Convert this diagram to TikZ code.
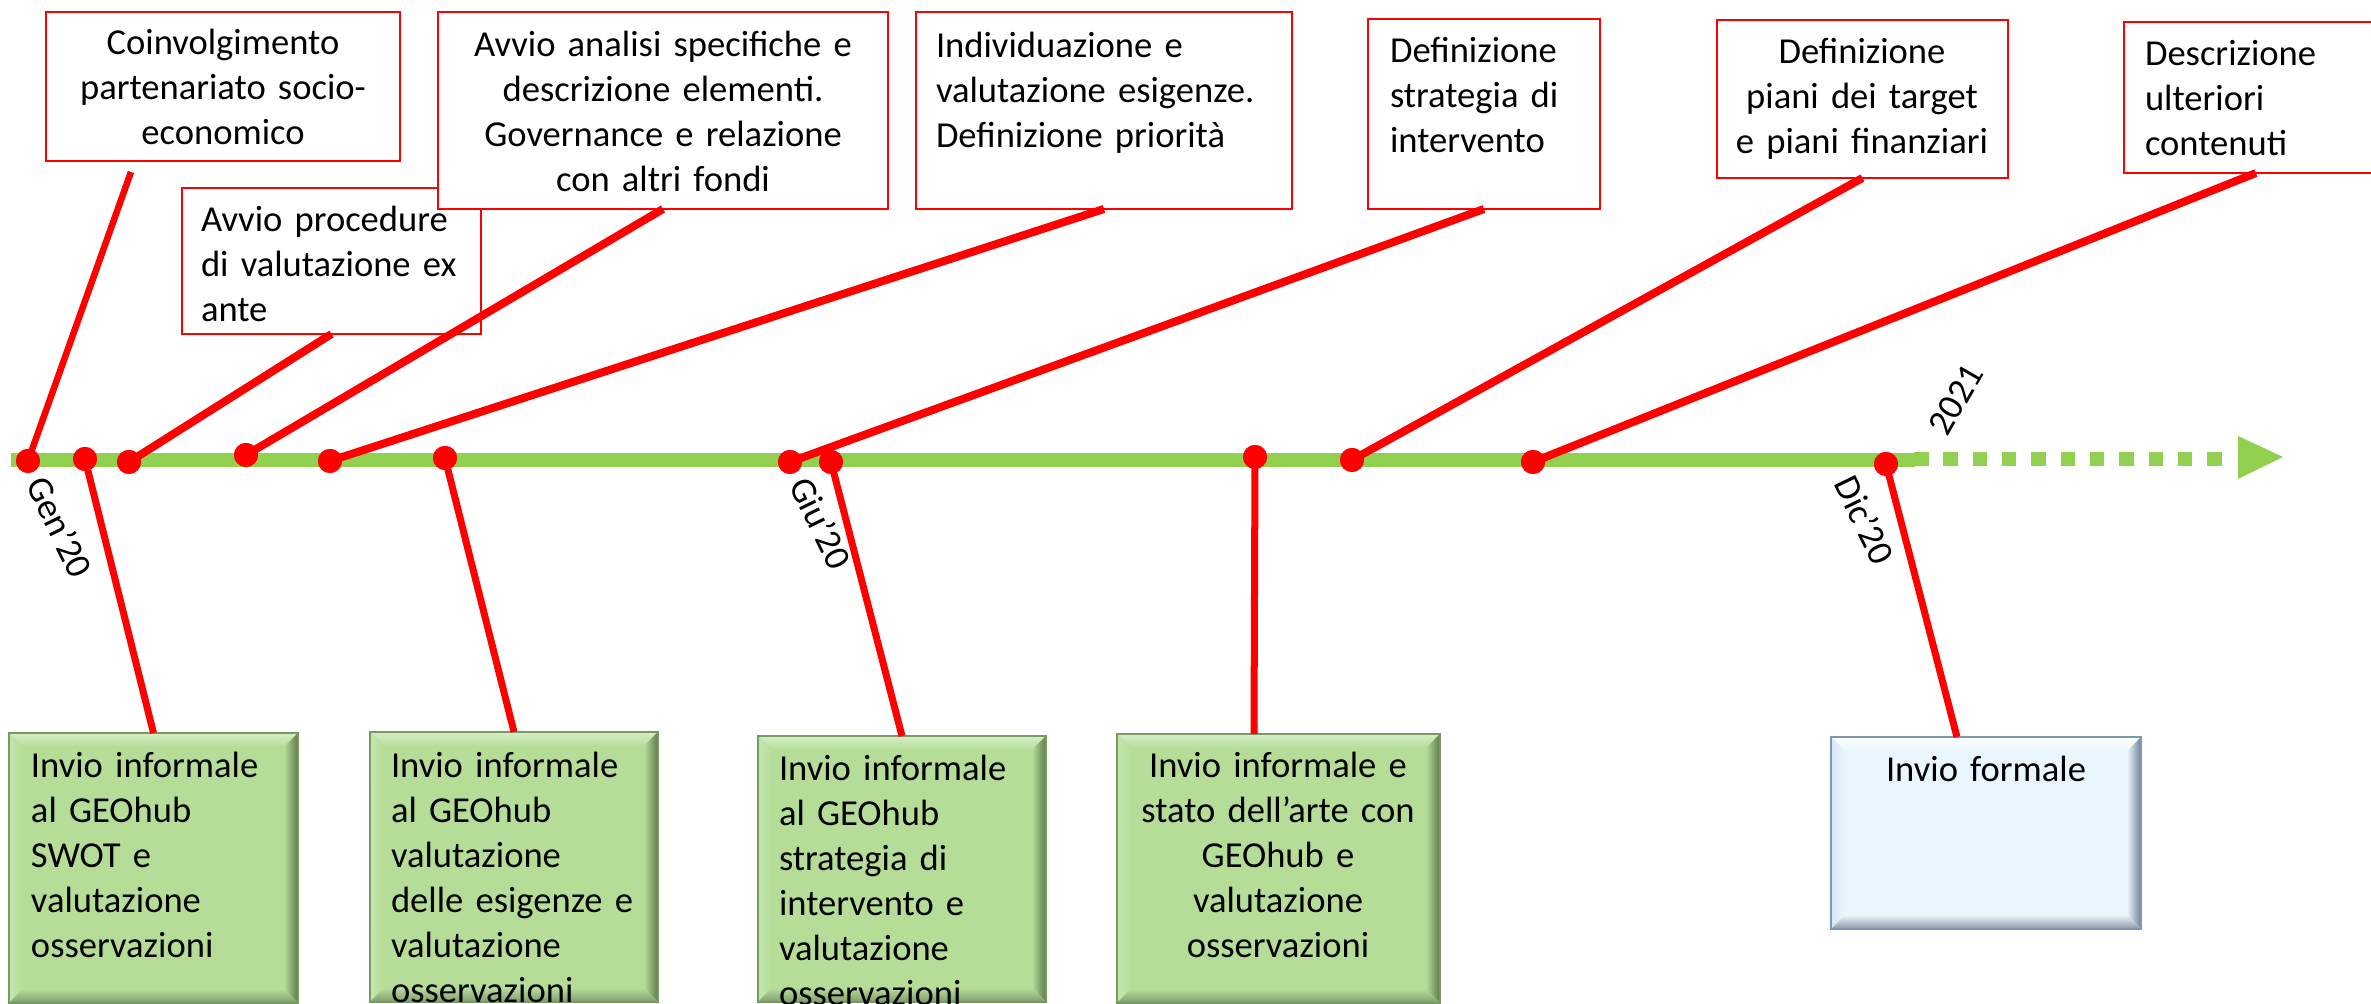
\documentclass[tikz,border=0pt]{standalone}
\usepackage{fontspec}
\setmainfont{Carlito}
\usetikzlibrary{fit,calc}
\definecolor{tlgreen}{RGB}{146,208,80}
\definecolor{gface}{RGB}{181,221,152}
\definecolor{glight}{RGB}{214,238,196}
\definecolor{gleft}{RGB}{196,230,172}
\definecolor{gdark}{RGB}{92,122,74}
\definecolor{gbottom}{RGB}{128,156,112}
\definecolor{gedge}{RGB}{120,152,100}
\definecolor{bface}{RGB}{234,246,253}
\definecolor{blight}{RGB}{255,255,255}
\definecolor{bleft}{RGB}{214,232,246}
\definecolor{bdark}{RGB}{111,129,147}
\definecolor{bbottom}{RGB}{138,152,166}
\definecolor{bedge}{RGB}{126,152,176}
\newcommand{\bevelbox}[4]{%
  \node[fit={#2 #3}, inner sep=0pt, outer sep=0pt, fill=#4face] (#1) {};
  \shade[top color=#4light, bottom color=#4face] (#1.north west) -- (#1.north east) -- ($(#1.north east)+(-14,14)$) -- ($(#1.north west)+(14,14)$) -- cycle;
  \shade[left color=#4left, right color=#4face] (#1.north west) -- ($(#1.north west)+(14,14)$) -- ($(#1.south west)+(14,-14)$) -- (#1.south west) -- cycle;
  \shade[left color=#4face, right color=#4dark] (#1.north east) -- ($(#1.north east)+(-14,14)$) -- ($(#1.south east)+(-14,-14)$) -- (#1.south east) -- cycle;
  \shade[top color=#4face, bottom color=#4bottom] (#1.south west) -- ($(#1.south west)+(14,-14)$) -- ($(#1.south east)+(-14,-14)$) -- (#1.south east) -- cycle;
  \draw[#4edge, line width=0.6pt] (#1.north west) rectangle (#1.south east);
}
\begin{document}
\begin{tikzpicture}[x=0.01cm, y=-0.01cm,
  tbox/.style={draw=red, line width=0.022cm, fill=white, inner sep=0pt, outer sep=0pt},
  txt/.style={font=\fontsize{10.4pt}{12.8pt}\selectfont, inner sep=0pt, outer sep=0pt, text=black},
  lead/.style={draw=red, line width=0.08cm},
  leadthin/.style={draw=red, line width=0.07cm},
  dot/.style={circle, fill=red, inner sep=0pt, minimum size=0.24cm}]
\useasboundingbox (0,0) rectangle (2371,1004);
\fill[white] (0,0) rectangle (2371,1004);
\clip (0,0) rectangle (2371,1004);

% top boxes
\node[tbox, fit={(46,12) (400,161)}] (t1) {};
\node[txt, anchor=north, text width=3.5cm, align=center] (t1txt) at (223,23.4) {\strut Coinvolgimento\\partenariato socio-\\economico};
\node[tbox, fit={(182,188) (481,334)}] (t2) {};
\node[txt, anchor=north west, text width=2.8cm, align=left] (t2txt) at (201,200.4) {\strut Avvio procedure\\di valutazione ex\\ante};
\node[tbox, fit={(438,12) (888,209)}] (t3) {};
\node[txt, anchor=north, text width=4.4cm, align=center] (t3txt) at (663,25.4) {\strut Avvio analisi specifiche e\\descrizione elementi.\\Governance e relazione\\con altri fondi};
\node[tbox, fit={(916,12) (1292,209)}] (t4) {};
\node[txt, anchor=north west, text width=3.5cm, align=left] (t4txt) at (936,26.4) {\strut Individuazione e\\valutazione esigenze.\\Definizione priorità};
\node[tbox, fit={(1368,19) (1600,209)}] (t5) {};
\node[txt, anchor=north west, text width=2.1cm, align=left] (t5txt) at (1390,31.4) {\strut Definizione\\strategia di\\intervento};
\node[tbox, fit={(1717,20) (2008,178)}] (t6) {};
\node[txt, anchor=north, text width=2.9cm, align=center] (t6txt) at (1862,32.4) {\strut Definizione\\piani dei target\\e piani finanziari};
\node[tbox, fit={(2124,22) (2388,173)}] (t7) {};
\node[txt, anchor=north west, text width=2.3cm, align=left] (t7txt) at (2145,34.4) {\strut Descrizione\\ulteriori\\contenuti};

% bottom boxes
\bevelbox{ba}{(9,733)}{(298,1003)}{g}
\node[txt, anchor=north west, text width=2.6cm, align=left] (batxt) at (31,746.4) {\strut Invio informale\\al GEOhub\\SWOT e\\valutazione\\osservazioni};
\bevelbox{bb}{(370,732)}{(658,1002)}{g}
\node[txt, anchor=north west, text width=2.6cm, align=left] (bbtxt) at (391,746.4) {\strut Invio informale\\al GEOhub\\valutazione\\delle esigenze e\\valutazione\\osservazioni};
\bevelbox{bc}{(758,736)}{(1046,1002)}{g}
\node[txt, anchor=north west, text width=2.6cm, align=left] (bctxt) at (779,749.4) {\strut Invio informale\\al GEOhub\\strategia di\\intervento e\\valutazione\\osservazioni};
\bevelbox{bd}{(1117,734)}{(1440,1003)}{g}
\node[txt, anchor=north, text width=3.1cm, align=center] (bdtxt) at (1278,746.4) {\strut Invio informale e\\stato dell’arte con\\GEOhub e\\valutazione\\osservazioni};
\bevelbox{be}{(1831,737)}{(2141,929)}{b}
\node[txt, anchor=north, text width=2.8cm, align=center] (betxt) at (1986,750.4) {\strut Invio formale};

% timeline
\coordinate (tlstart) at (11,460);
\coordinate (tlsolid) at (1915,460);
\coordinate (dashstart) at (1914,459);
\coordinate (dashend) at (2223,459);
\draw[tlgreen, line width=0.14cm] (tlstart) -- (tlsolid);
\draw[tlgreen, line width=0.14cm, dash pattern=on 0.145cm off 0.148cm] (dashstart) -- (dashend);
\coordinate (arrA) at (2238,436);
\coordinate (arrB) at (2283,457);
\coordinate (arrC) at (2238,479);
\fill[tlgreen] (arrA) -- (arrB) -- (arrC) -- cycle;

% dots
\node[dot] (d1) at (28,461) {};
\node[dot] (d2) at (85,459) {};
\node[dot] (d3) at (129,462) {};
\node[dot] (d4) at (246,455) {};
\node[dot] (d5) at (330,461) {};
\node[dot] (d6) at (445,458) {};
\node[dot] (d7) at (790,462) {};
\node[dot] (d8) at (831,462) {};
\node[dot] (d9) at (1255,457) {};
\node[dot] (d10) at (1352,460) {};
\node[dot] (d11) at (1533,462) {};
\node[dot] (d12) at (1886,464) {};

% connectors
\coordinate (c1top) at (131,172);
\draw[red, line width=0.065cm] (c1top) -- (d1.center);
\draw[lead] (t2.south) -- (d3.center);
\draw[lead] (t3.south) -- (d4.center);
\draw[lead] (t4.south) -- (d5.center);
\draw[lead] (t5.south) -- (d7.center);
\draw[lead] (t6.south) -- (d10.center);
\draw[lead] (t7.south) -- (d11.center);
\coordinate (bdtop) at (1254,734);
\coordinate (betop) at (1957,737);
\draw[leadthin] (d2.center) -- (ba.north);
\draw[leadthin] (d6.center) -- (bb.north);
\draw[leadthin] (d8.center) -- (bc.north);
\draw[leadthin] (d9.center) -- (bdtop);
\draw[leadthin] (d12.center) -- (betop);

% redraw dots on top
\foreach \d in {d1,d2,d3,d4,d5,d6,d7,d8,d9,d10,d11,d12}
  \fill[red] (\d) circle (12);

% date labels
\node[txt, rotate=-64] (lgen) at (60,527) {Gen’20};
\node[txt, rotate=-64] (lgiu) at (821,523) {Giu’20};
\node[txt, rotate=-64] (ldic) at (1865,520) {Dic’20};
\node[txt, rotate=60] (l2021) at (1956,400) {2021};
\end{tikzpicture}
\end{document}
